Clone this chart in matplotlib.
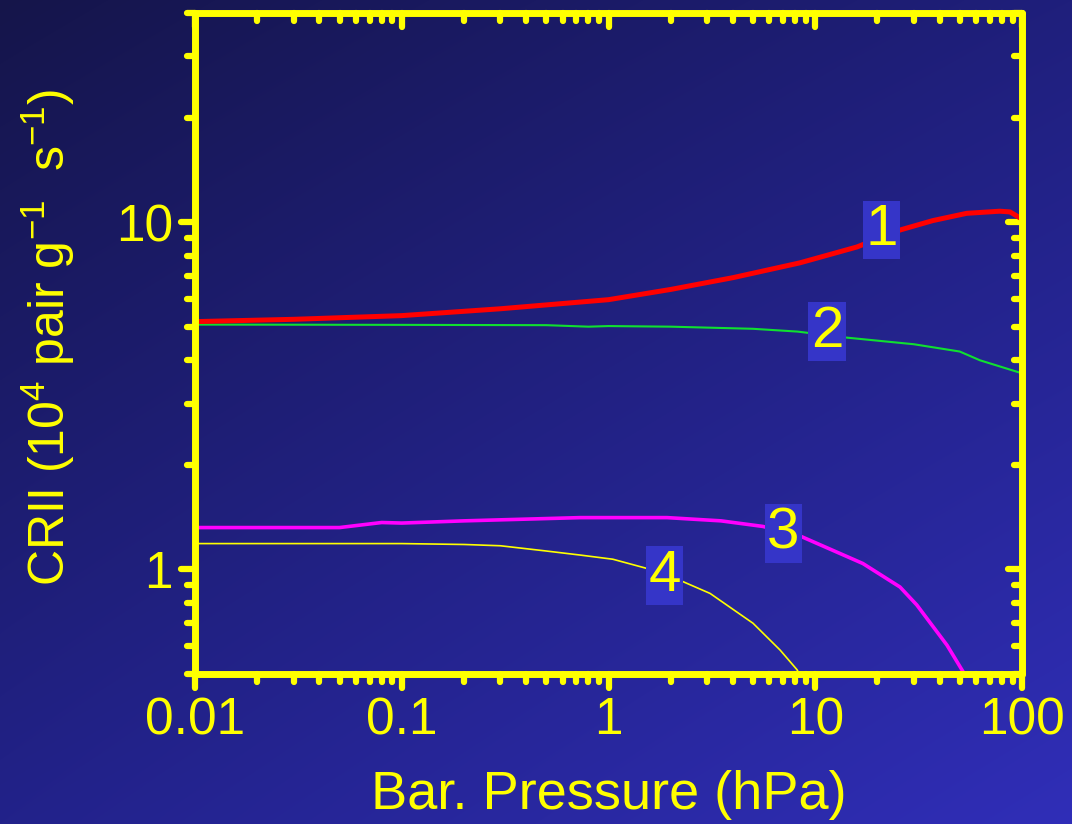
import numpy as np
import matplotlib
matplotlib.use('Agg')
import matplotlib.pyplot as plt
from matplotlib.markers import MarkerStyle, TICKLEFT, TICKDOWN
from matplotlib.colors import to_rgb

plt.rcParams['font.family'] = ['Liberation Sans', 'DejaVu Sans']
plt.rcParams['mathtext.default'] = 'regular'
plt.rcParams['axes.unicode_minus'] = False

YEL = '#ffff00'

# curve 1 (red)
p1 = [0.01, 0.03, 0.1, 0.3, 1.0, 2.0, 4.0, 8.4, 15.9, 25.7, 37.0, 54.0, 78.0, 87.5, 100.0]
c1 = [5.17, 5.25, 5.38, 5.63, 5.98, 6.40, 6.92, 7.63, 8.48, 9.49, 10.1, 10.6, 10.75, 10.7, 10.2]

# curve 2 (green)
p2 = [0.01, 0.1, 0.5, 0.8, 1.0, 2.0, 5.0, 8.2, 14.2, 30.0, 50.0, 62.7, 100.0]
c2 = [5.07, 5.06, 5.05, 5.0, 5.02, 5.0, 4.93, 4.84, 4.65, 4.45, 4.24, 4.0, 3.67]

# curve 3 (magenta)
p3 = [0.01, 0.05, 0.08, 0.1, 0.2, 0.73, 1.92, 3.5, 5.58, 8.4, 17.0, 25.7, 31.0, 43.4, 53.0]
c3 = [1.32, 1.32, 1.365, 1.36, 1.38, 1.41, 1.41, 1.38, 1.33, 1.25, 1.04, 0.89, 0.79, 0.605, 0.497]

# curve 4 (yellow)
p4 = [0.01, 0.1, 0.2, 0.3, 0.5, 0.73, 1.05, 1.53, 2.22, 3.1, 5.0, 6.76, 8.17, 8.5]
c4 = [1.187, 1.187, 1.18, 1.17, 1.13, 1.10, 1.07, 1.007, 0.93, 0.853, 0.70, 0.586, 0.514, 0.49]

# curve labels: text, x, y
lab_txt = ['1', '2', '3', '4']
lab_x = [21.0, 11.4, 7.0, 1.87]
lab_y = [9.49, 4.84, 1.27, 0.96]

fig = plt.figure(figsize=(10.72, 8.24), dpi=100)

# diagonal gradient background
bg = fig.add_axes([0, 0, 1, 1], zorder=-10)
h, w = 824, 1072
yy, xx = np.mgrid[0:1:h * 1j, 0:1:w * 1j]
tl = np.array(to_rgb('#15154a'))
tr = np.array(to_rgb('#1f1f7c'))
bl = np.array(to_rgb('#22228a'))
br = np.array(to_rgb('#302eb8'))
img = ((1 - xx)[..., None] * (1 - yy)[..., None] * tl + xx[..., None] * (1 - yy)[..., None] * tr
       + (1 - xx)[..., None] * yy[..., None] * bl + xx[..., None] * yy[..., None] * br)
bg.imshow(img, aspect='auto', extent=[0, 1, 0, 1], interpolation='bilinear')
bg.set_axis_off()

ax = fig.add_axes([195 / 1072, 1 - 674 / 824, (1022 - 195) / 1072, (674 - 13) / 824])
ax.set_facecolor('none')

ax.plot(p2, c2, color='#10e030', lw=1.5)
ax.plot(p4, c4, color=YEL, lw=1.2)
ax.plot(p3, c3, color='#ff00ff', lw=2.6)
ax.plot(p1, c1, color='#ff0000', lw=3.6)

for t, x, y in zip(lab_txt, lab_x, lab_y):
    ax.text(x, y, t, color=YEL, fontsize=42, ha='center', va='center',
            bbox=dict(boxstyle='square,pad=0.04', fc='#3535c8', ec='none'))

ax.set_xscale('log')
ax.set_yscale('log')
ax.set_xlim(0.01, 100)
ax.set_ylim(0.5, 40)
ax.set_xticks([0.01, 0.1, 1, 10, 100])
ax.set_xticklabels(['0.01', '0.1', '1', '10', '100'])
ax.set_yticks([1, 10])
ax.set_yticklabels(['1', '10'])

for s in ax.spines.values():
    s.set_color(YEL)
    s.set_linewidth(5)
    s.set_capstyle('round')

ax.tick_params(which='both', colors=YEL, width=4.5, labelsize=37)
ax.tick_params(which='both', direction='out', top=True, right=True)
ax.tick_params(which='major', length=10, pad=6)
ax.tick_params(which='minor', length=6)

# left/bottom ticks point outward, top/right ticks point inward, all with round caps
for tk in ax.xaxis.get_major_ticks() + ax.xaxis.get_minor_ticks():
    tk.tick1line.set_marker(MarkerStyle(TICKDOWN, capstyle='round'))
    tk.tick2line.set_marker(MarkerStyle(TICKDOWN, capstyle='round'))
for tk in ax.yaxis.get_major_ticks() + ax.yaxis.get_minor_ticks():
    tk.tick1line.set_marker(MarkerStyle(TICKLEFT, capstyle='round'))
    tk.tick2line.set_marker(MarkerStyle(TICKLEFT, capstyle='round'))

ax.set_xlabel('Bar. Pressure (hPa)', color=YEL, fontsize=39, labelpad=18)
ax.set_ylabel('CRII (10$^{4}$ pair g$^{-1}$  s$^{-1}$)', color=YEL, fontsize=36)
ax.yaxis.set_label_coords(-0.143, 0.51)

fig.savefig('out.png', dpi=100)
